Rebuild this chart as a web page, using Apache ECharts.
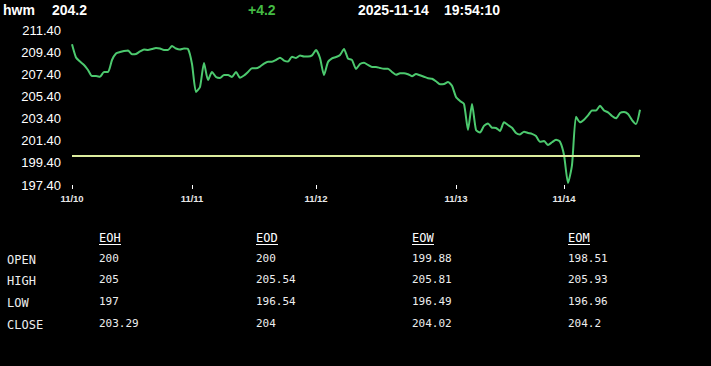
<!DOCTYPE html>
<html>
<head>
<meta charset="utf-8">
<script src="https://cdn.jsdelivr.net/npm/echarts@6/dist/echarts.min.js"></script>
<style>
html,body{margin:0;padding:0;background:#000;}
#chart{width:711px;height:366px;}
</style>
</head>
<body>
<div id="chart"></div>
<script>
// ---- header ----
const symbolName = 'hwm';
const lastPrice = '204.2';
const changeText = '+4.2';
const dateText = '2025-11-14';
const timeText = '19:54:10';

// ---- x axis: trading days and number of samples per day ----
const dayLabels = ['11/10', '11/11', '11/12', '11/13', '11/14'];
const dayCounts = [30, 31, 35, 27, 20];

// ---- y axis ----
const yMin = 197.4;
const yMax = 211.4;
const yStep = 2;

// ---- reference line (open) ----
const openLevel = 200;

// ---- price series ----
const prices = [
  210.11, 208.92, 208.55, 208.24, 207.79, 207.24, 207.24, 207.18, 207.61, 207.61,
  208.69, 209.28, 209.41, 209.50, 209.55, 209.20, 209.23, 209.46, 209.64, 209.59,
  209.68, 209.77, 209.73, 209.59, 209.59, 209.95, 209.73, 209.64, 209.73, 209.68,
  208.33, 205.80, 206.25, 208.42, 206.88, 207.61, 207.15, 207.06, 207.33, 207.33,
  207.15, 207.61, 207.09, 207.29, 207.61, 207.94, 207.94, 208.10, 208.37, 208.54,
  208.54, 208.69, 208.90, 208.64, 208.55, 208.99, 208.87, 209.10, 209.01, 209.01,
  209.11, 209.59, 208.87, 207.33, 208.51, 208.84, 208.96, 209.14, 209.68, 208.82,
  208.69, 207.88, 208.33, 208.45, 208.24, 208.06, 208.06, 207.97, 207.90, 207.91,
  207.61, 207.36, 207.49, 207.50, 207.40, 207.23, 207.43, 207.31, 207.18, 207.04,
  207.00, 206.77, 206.49, 206.52, 206.71, 206.37, 205.35, 204.99, 204.72, 202.37,
  204.72, 202.37, 202.14, 202.74, 202.96, 202.57, 202.55, 202.28, 203.06, 202.82,
  202.57, 202.10, 201.97, 202.21, 202.10, 202.02, 201.82, 201.31, 201.37, 201.01,
  201.26, 201.49, 201.31, 200.11, 197.58, 199.20, 203.57, 203.06, 203.30, 203.69,
  204.13, 204.12, 204.56, 204.13, 203.96, 203.63, 203.42, 203.90, 203.99, 203.81,
  203.27, 202.91, 204.20
];

// ---- summary table ----
const rowLabels = ['OPEN', 'HIGH', 'LOW', 'CLOSE'];
const colHeaders = ['EOH', 'EOD', 'EOW', 'EOM'];
const eohValues = ['200', '205', '197', '203.29'];
const eodValues = ['200', '205.54', '196.54', '204'];
const eowValues = ['199.88', '205.81', '196.49', '204.02'];
const eomValues = ['198.51', '205.93', '196.96', '204.2'];
const tableColumns = [eohValues, eodValues, eowValues, eomValues];

// build categories
const categories = [];
const dayStart = {};
dayLabels.forEach((d, k) => {
  for (let j = 0; j < dayCounts[k]; j++) {
    if (j === 0) dayStart[categories.length] = true;
    categories.push(d + ' #' + j);
  }
});

const chart = echarts.init(document.getElementById('chart'), null, {renderer: 'svg'});

const headFont = 'bold 14px "Liberation Sans", Arial, sans-serif';
const graphics = [
  {type: 'text', left: 3, top: 3, style: {text: symbolName, fill: '#fff', font: headFont}},
  {type: 'text', left: 52, top: 3, style: {text: lastPrice, fill: '#fff', font: headFont}},
  {type: 'text', left: 248, top: 3, style: {text: changeText, fill: '#44bb44', font: headFont}},
  {type: 'text', left: 358, top: 3, style: {text: dateText, fill: '#fff', font: headFont}},
  {type: 'text', left: 444, top: 3, style: {text: timeText, fill: '#fff', font: headFont}}
];

const colX = [99, 256, 412, 568];
const rowY = [259, 280, 302, 324];
const monoFont = '"DejaVu Sans Mono", "Liberation Mono", monospace';

colHeaders.forEach((h, c) => {
  graphics.push({type: 'text', x: colX[c], y: 238, style: {text: h, fill: '#fff', font: '12px ' + monoFont, verticalAlign: 'middle'}});
  graphics.push({type: 'line', shape: {x1: colX[c], y1: 244.5, x2: colX[c] + 22, y2: 244.5}, style: {stroke: '#fff', lineWidth: 1}});
});
rowLabels.forEach((r, i) => {
  graphics.push({type: 'text', x: 7, y: rowY[i] + 1, style: {text: r, fill: '#eee', font: '12px ' + monoFont, verticalAlign: 'middle'}});
  tableColumns.forEach((col, c) => {
    graphics.push({type: 'text', x: colX[c], y: rowY[i] - 0.5, style: {text: col[i], fill: '#eee', font: '11px ' + monoFont, verticalAlign: 'middle'}});
  });
});

chart.setOption({
  backgroundColor: '#000',
  animation: false,
  grid: {left: 72, right: 71, top: 30, bottom: 181},
  xAxis: {
    type: 'category',
    data: categories,
    boundaryGap: false,
    axisLine: {show: false},
    axisTick: {show: true, length: 4, interval: (idx) => !!dayStart[idx], lineStyle: {color: '#fff', width: 1}},
    axisLabel: {
      interval: (idx) => !!dayStart[idx],
      formatter: (v) => v.split(' ')[0],
      color: '#e8e8e8', fontSize: 9.5, fontWeight: 'bold', margin: 8,
      fontFamily: '"Liberation Sans", Arial, sans-serif'
    },
    splitLine: {show: false}
  },
  yAxis: {
    type: 'value',
    min: yMin, max: yMax, interval: yStep,
    axisLine: {show: false},
    axisTick: {show: false},
    splitLine: {show: false},
    axisLabel: {
      formatter: (v) => v.toFixed(2),
      color: '#fff', fontSize: 13, margin: 11,
      fontFamily: '"Liberation Sans", Arial, sans-serif'
    }
  },
  series: [{
    type: 'line',
    data: prices,
    symbol: 'none',
    smooth: 0.2,
    lineStyle: {color: '#4cc96e', width: 2},
    markLine: {
      silent: true,
      symbol: 'none',
      label: {show: false},
      lineStyle: {color: '#dcec9e', width: 2, type: 'solid'},
      data: [{yAxis: openLevel}]
    }
  }],
  graphic: graphics
});
</script>
</body>
</html>
